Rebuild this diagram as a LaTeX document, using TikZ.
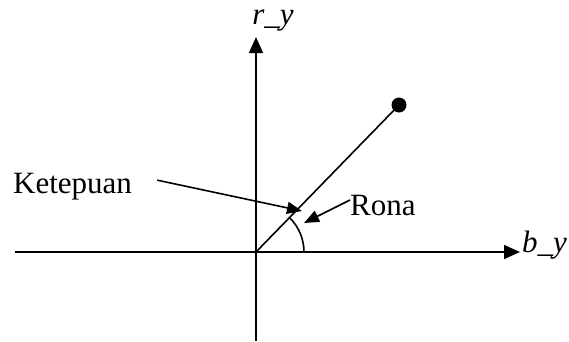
\documentclass[tikz,border=0pt]{standalone}
\usepackage{fontspec}
\setmainfont{Liberation Serif}
\usepackage{tikz}
\usetikzlibrary{arrows.meta, positioning, calc}

\begin{document}
\begin{tikzpicture}[
  x=1pt, y=-1pt,
  axis/.style={line width=1.6pt, -{Triangle[length=16pt, width=14pt]}},
  pointer/.style={line width=1.6pt, -{Triangle[length=15pt, width=12pt]}},
  lbl/.style={inner sep=0pt, font=\fontsize{31}{37}\selectfont}
]
\useasboundingbox (0,0) rectangle (569,341);

\coordinate (origin) at (256,252);
\coordinate (xleft) at (15,252);
\coordinate (xright) at (520,252);
\coordinate (ybottom) at (256,341);
\coordinate (ytop) at (256,37);

\draw[axis] (xleft) -- (xright);
\draw[axis] (ybottom) -- (ytop);

\node[lbl, anchor=west] (bylbl) at (522,245) {\textit{b\_y}};
\node[lbl, anchor=south] (rylbl) at (273,31) {\textit{r\_y}};

\node[circle, fill=black, inner sep=0pt, minimum size=15pt] (tip) at (399,105) {};
\draw[line width=1.6pt] (origin) -- (tip.center);

% angle mark
\draw[line width=1.6pt] ([shift={(0:48pt)}]origin) arc[start angle=0, end angle=45, radius=48pt];

\node[lbl, anchor=base west] (ketepuan) at (13,193) {Ketepuan};
\node[lbl, anchor=base west] (rona) at (350,215) {Rona};

\coordinate (ktip) at (302,211);
\coordinate (rtip) at (304,223);

\draw[pointer] ([xshift=25pt, yshift=6pt]ketepuan.east) -- (ktip);
\draw[pointer] ([yshift=5pt]rona.west) -- (rtip);
\end{tikzpicture}
\end{document}
